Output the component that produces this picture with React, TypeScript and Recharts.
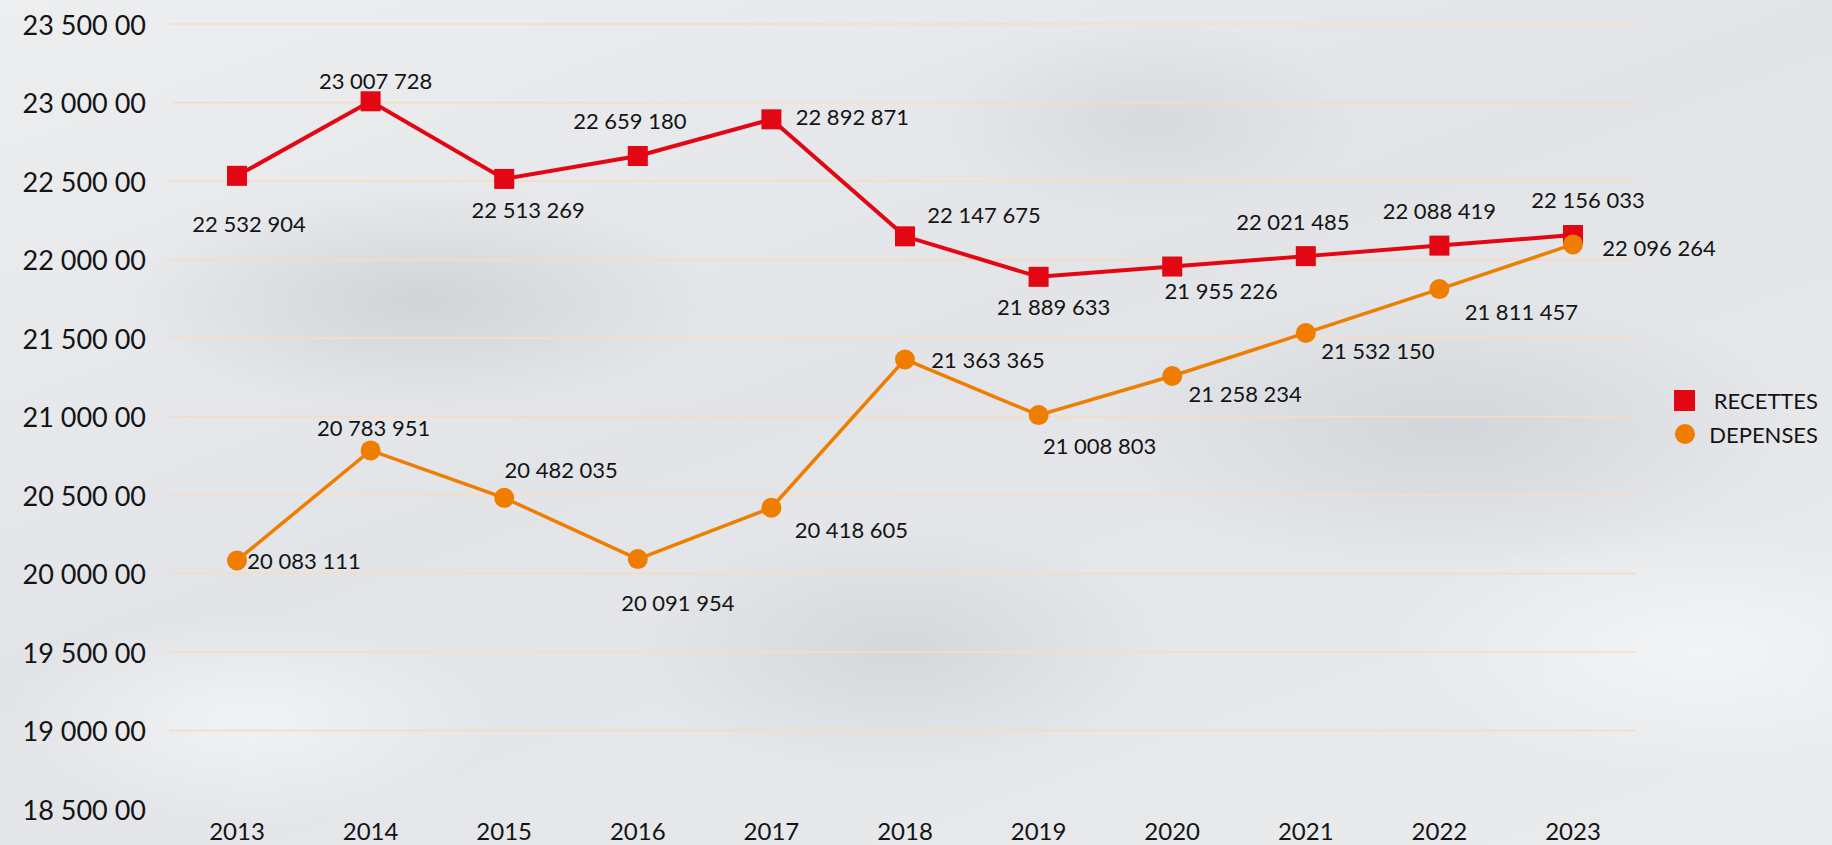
import React from 'react';
import {
  LineChart,
  Line,
  XAxis,
  YAxis,
  CartesianGrid,
  LabelList,
} from 'recharts';

// années
const YEARS = ['2013', '2014', '2015', '2016', '2017', '2018', '2019', '2020', '2021', '2022', '2023'];

// séries
const RECETTES = [
  22532904, 23007728, 22513269, 22659180, 22892871, 22147675, 21889633, 21955226, 22021485, 22088419,
  22156033,
];
const DEPENSES = [
  20083111, 20783951, 20482035, 20091954, 20418605, 21363365, 21008803, 21258234, 21532150, 21811457,
  22096264,
];

// axe Y
const Y_TICKS = [
  18500000, 19000000, 19500000, 20000000, 20500000, 21000000, 21500000, 22000000, 22500000, 23000000,
  23500000,
];
const Y_TICK_LABELS = [
  '18 500 00', '19 000 00', '19 500 00', '20 000 00', '20 500 00', '21 000 00', '21 500 00', '22 000 00',
  '22 500 00', '23 000 00', '23 500 00',
];

// placement des étiquettes (décalage du centre du texte par rapport au point)
const REC_LABEL_OFFSETS = [
  [12, 48], [5, -21], [24, 31], [-8, -36], [81, -3], [79, -22], [15, 30], [49, 24], [-13, -35], [0, -35], [15, -36],
];
const DEP_LABEL_OFFSETS = [
  [67, 0], [3, -23], [57, -28], [40, 43], [80, 22], [83, 0], [61, 30], [73, 18], [72, 18], [82, 22], [86, 3],
];

const RED = '#e30613';
const ORANGE = '#ee7d00';
const TEXT = '#141414';
const FONT = 'Lato, "Open Sans", sans-serif';

const data = YEARS.map((year, i) => ({
  year,
  recettes: RECETTES[i],
  depenses: DEPENSES[i],
}));

const fmt = (v: number) => String(v).replace(/\B(?=(\d{3})+(?!\d))/g, ' ');

const makeLabel = (offsets: number[][]) => (props: any) => {
  const { x, y, value, index } = props;
  const [dx, dy] = offsets[index] ?? [0, -20];
  return (
    <text
      x={Number(x) + dx}
      y={Number(y) + dy}
      textAnchor="middle"
      dominantBaseline="central"
      fill={TEXT}
      fontSize={22}
      fontFamily={FONT}
    >
      {fmt(Number(value))}
    </text>
  );
};

const SquareDot = (props: any) => {
  const { cx, cy, index } = props;
  if (cx == null || cy == null) return <g key={`sq-${index}`} />;
  return <rect key={`sq-${index}`} x={cx - 10} y={cy - 10} width={20} height={20} fill={RED} />;
};

const CircleDot = (props: any) => {
  const { cx, cy, index } = props;
  if (cx == null || cy == null) return <g key={`ci-${index}`} />;
  return <circle key={`ci-${index}`} cx={cx} cy={cy} r={10} fill={ORANGE} />;
};

const YTick = (props: any) => {
  const { y, payload } = props;
  const i = Y_TICKS.indexOf(payload.value);
  return (
    <text
      x={146}
      y={y}
      textAnchor="end"
      dominantBaseline="central"
      fill={TEXT}
      fontSize={27}
      fontFamily={FONT}
    >
      {Y_TICK_LABELS[i]}
    </text>
  );
};

const XTick = (props: any) => {
  const { x, y, payload } = props;
  return (
    <text
      x={x}
      y={y + 13}
      textAnchor="middle"
      dominantBaseline="central"
      fill={TEXT}
      fontSize={24}
      fontFamily={FONT}
    >
      {payload.value}
    </text>
  );
};

// légende (hors du graphique pour ne pas réduire la zone de tracé)
const LegendBox = () => (
  <div
    style={{
      position: 'absolute',
      left: 1674,
      top: 383,
      width: 144,
      fontFamily: FONT,
      fontSize: 22,
      color: TEXT,
    }}
  >
    <div style={{ display: 'flex', alignItems: 'center', justifyContent: 'space-between', height: 34 }}>
      <span style={{ width: 21, height: 21, background: RED, display: 'inline-block' }} />
      <span>RECETTES</span>
    </div>
    <div style={{ display: 'flex', alignItems: 'center', justifyContent: 'space-between', height: 34 }}>
      <span
        style={{ width: 20, height: 20, borderRadius: 10, background: ORANGE, display: 'inline-block', marginLeft: 1 }}
      />
      <span>DEPENSES</span>
    </div>
  </div>
);

export default function App() {
  return (
    <div
      style={{
        position: 'fixed',
        left: 0,
        top: 0,
        width: 1832,
        height: 845,
        overflow: 'hidden',
        background: [
          'radial-gradient(ellipse 420px 160px at 420px 300px, rgba(170,176,182,0.35), rgba(170,176,182,0) 70%)',
          'radial-gradient(ellipse 500px 200px at 1450px 430px, rgba(170,176,182,0.30), rgba(170,176,182,0) 70%)',
          'radial-gradient(ellipse 380px 180px at 900px 650px, rgba(175,180,186,0.30), rgba(175,180,186,0) 70%)',
          'radial-gradient(ellipse 300px 140px at 1150px 120px, rgba(175,180,186,0.25), rgba(175,180,186,0) 70%)',
          'radial-gradient(ellipse 350px 150px at 250px 720px, rgba(255,255,255,0.5), rgba(255,255,255,0) 70%)',
          'radial-gradient(ellipse 450px 180px at 1700px 650px, rgba(255,255,255,0.5), rgba(255,255,255,0) 70%)',
          'linear-gradient(160deg, #eceef0 0%, #e2e4e7 45%, #e9ebed 100%)',
        ].join(', '),
      }}
    >
      <LineChart
        width={1832}
        height={845}
        data={data}
        margin={{ top: 24, right: 196, bottom: 0, left: 0 }}
      >
        <CartesianGrid
          horizontal
          vertical={false}
          stroke="#f8dcc0"
          strokeWidth={1.5}
          horizontalValues={Y_TICKS.slice(1)}
        />
        <XAxis
          dataKey="year"
          height={36}
          axisLine={false}
          tickLine={false}
          padding={{ left: 67, right: 63 }}
          tick={<XTick />}
          interval={0}
        />
        <YAxis
          width={170}
          domain={[18500000, 23500000]}
          ticks={Y_TICKS}
          axisLine={false}
          tickLine={false}
          tick={<YTick />}
          interval={0}
        />
        <Line
          dataKey="recettes"
          name="RECETTES"
          type="linear"
          stroke={RED}
          strokeWidth={4}
          dot={SquareDot}
          activeDot={false}
          isAnimationActive={false}
        >
          <LabelList dataKey="recettes" content={makeLabel(REC_LABEL_OFFSETS)} />
        </Line>
        <Line
          dataKey="depenses"
          name="DEPENSES"
          type="linear"
          stroke={ORANGE}
          strokeWidth={3.5}
          dot={CircleDot}
          activeDot={false}
          isAnimationActive={false}
        >
          <LabelList dataKey="depenses" content={makeLabel(DEP_LABEL_OFFSETS)} />
        </Line>
      </LineChart>
      <LegendBox />
    </div>
  );
}
